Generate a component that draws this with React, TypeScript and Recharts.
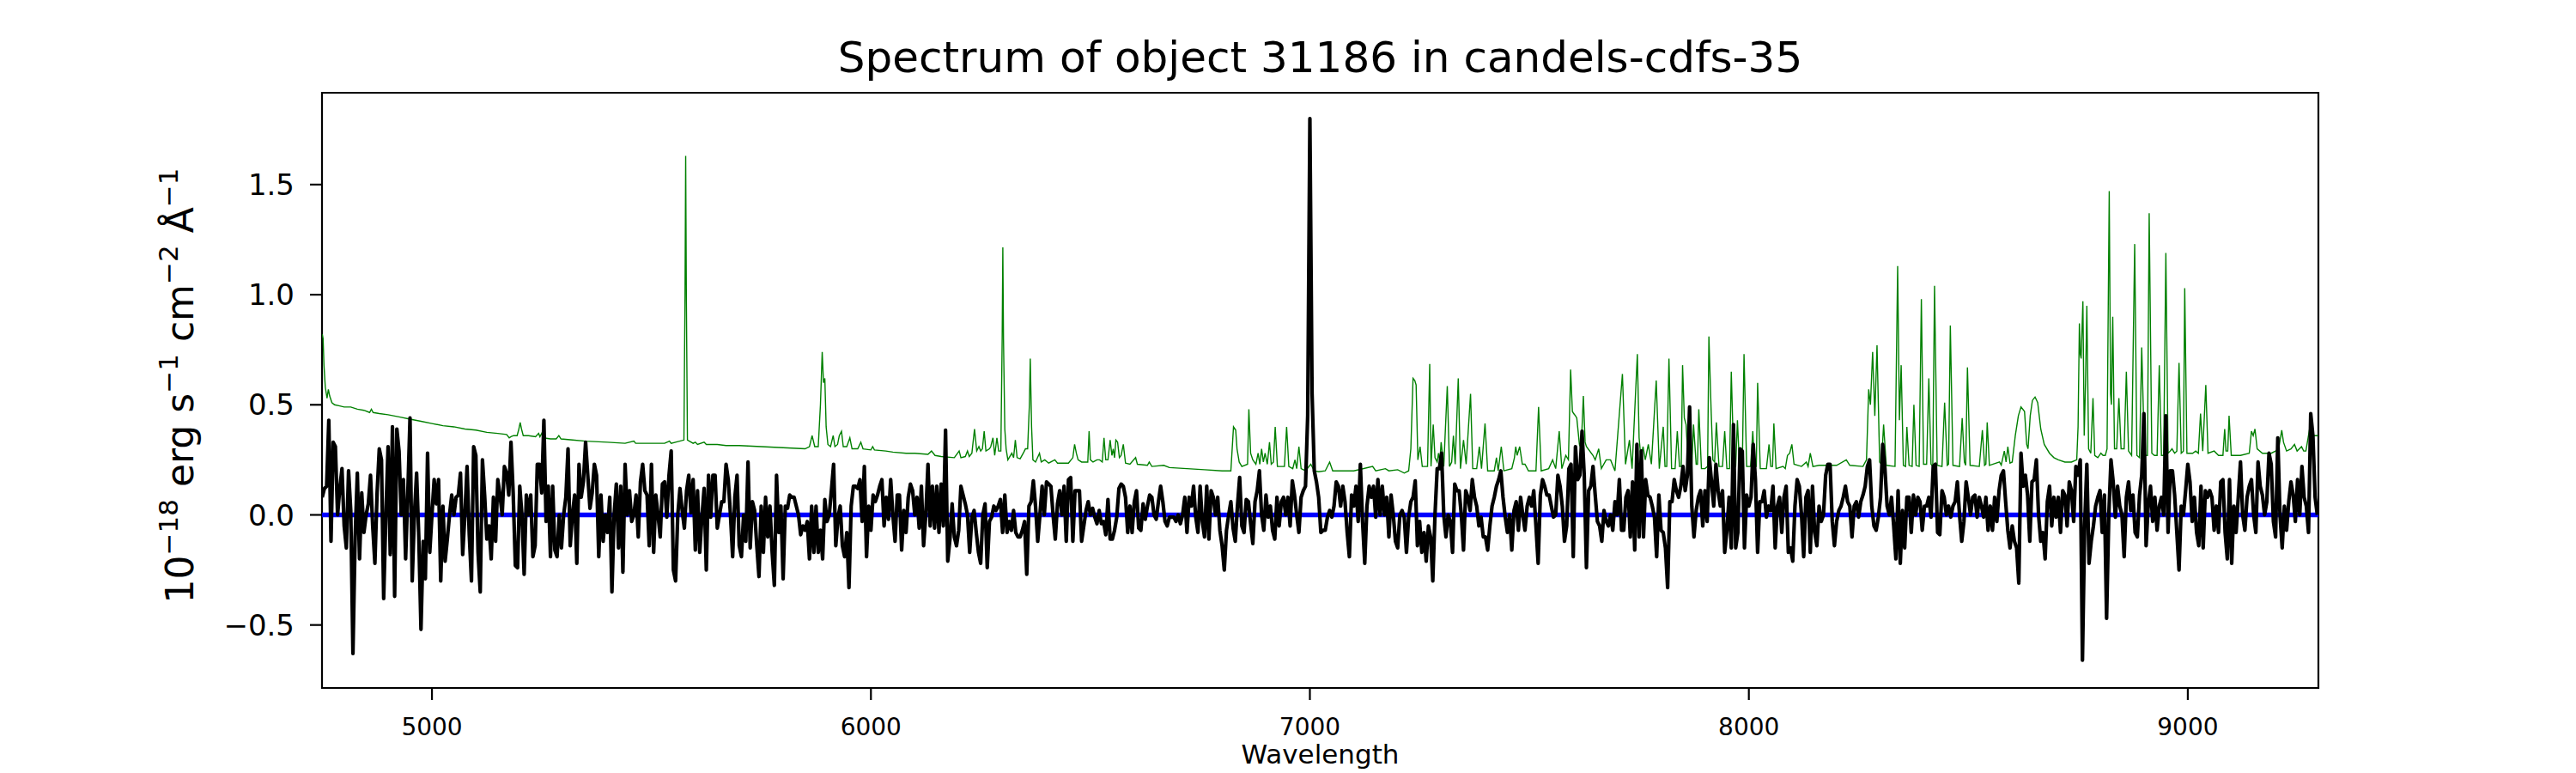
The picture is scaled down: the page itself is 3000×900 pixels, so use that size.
import React from 'react';
import { LineChart, Line, XAxis, YAxis, ReferenceLine, ReferenceArea } from 'recharts';

// 1D extraction grid of the object spectrum (Angstrom)
const WAVE_START = 4750;
const WAVE_STEP = 5;

// object flux, 1e-18 erg/s/cm2/A, one value per pixel
const FLUX_4750 = [
  .08, .12, .13, .43, -.12, .33, .31, 0, .12, .21,
  -.05, -.15, .2, .02, -.63, -.1, .19, -.2, .1, -.08,
  0, .05, .18, -.05, -.22, .1, .3, .25, -.38, 0,
  .31, -.18, .4, -.37, .39, .29, 0, .16, -.2, .1,
  .44, -.3, 0, .19, -.1, -.52, -.12, -.29, .28, -.17,
  0, .16, .05, .16, -.3, .04, -.21, -.11, 0, .09,
  0, .08, .09, .19, -.18, 0, .22, -.09, -.3, .31,
  .27, -.17, -.35, .25, .09, -.11, -.05, -.2, .08, -.12,
  .16, .09, 0, .22, .19, .09, .33, .1, -.23, -.24,
  .13, 0, -.27, .09, 0, .09, -.19, -.14, .23, .23,
  .1, .43, -.03, .13, -.19, .13, -.16, -.19, 0, -.15,
  0, .08, .3, -.14, 0, .09, -.22, .23, .08, .15,
  .33, .18, .03, .1, .23, .18, -.19, .09, -.12, 0,
  -.08, .08, -.35, 0, .14, -.15, .13, -.26, .23, 0,
  .11, -.03, 0, .09, -.1, .15, .23, .11, .09, -.14,
  .23, -.17, .09, 0, -.1,
];
const FLUX_5525 = [
  .14, .15, -.01, .18, .29, -.25, -.3, 0, .12, .02,
  -.06, .11, .18, .01, .16, -.16, .11, -.17, -.01, .12,
  -.25, .18, -.01, .18, .18, -.06, 0, .06, .06, .23,
  .16, 0, -.19, .08, .18, -.14, -.19, 0, -.12, .24,
  -.15, .06, .02, -.14, -.28, .04, -.17, .08, -.1, .04,
  -.17, -.32, .18, -.08, .04, -.29, .04, .03, .09, .08,
  .08, .04, 0, -.09, -.05, -.07, -.03, -.2, .04, -.17,
  .04, -.17, -.07, -.2, .07, -.03, 0, .11, .23, -.14,
  -.01, .04, -.14, -.19, -.08, -.33, .04, .13, .13, .12,
  .16, -.03, .22, -.19, .04, -.07, .09, .06, .09, .13,
  .16, -.05, .08, -.02, .16, 0, -.12, .09, .09, -.16,
  .02, -.08, .08, .14, .11, 0, .08, -.06, .13, -.14,
  0, .23, -.05, .13, -.06, .13, -.08, .14, -.05, .385,
  -.21, -.11, .05, -.1, -.14, -.07, .13, .09, .05, 0,
  -.17, -.01, .02, -.08, -.17, -.22, 0, .05, -.24, -.03,
  -.01, .04,
];
const FLUX_6285 = [
  .02, .04, .07, -.08, .09, -.08, -.03, -.07, .02, -.08,
  -.1, -.1, -.07, -.03, -.27, .04, .06, .155, .04, -.12,
  0, .13, 0, .15, .14, .13, 0, -.11, .05, .11,
  0, .13, -.12, .16, .17, -.12, .11, .11, .11, -.12,
  -.05, .02, .06, 0, .03, -.01, -.04, .02, -.04, -.03,
  -.09, .07, -.11, -.11, -.07, -.01, .12, .14, .13, .08,
  -.08, .04, -.08, .06, .11, -.06, -.07, .05, -.02, .04,
  .09, .08, 0, -.02, .06, .13, .06, -.03, -.05, -.01,
  -.01, -.01, -.03, 0, -.04, 0, .08, -.08, .08, .04,
  .13, -.01, -.08, .13, -.03, -.1, .13, -.11, .11, .08,
  0, .08, -.07, -.14, -.25, -.07, 0, .06, -.06, -.12,
  .04, .17, -.05, -.08, .07, .06, -.04, -.13, .06, .11,
  .2, 0, -.07, .09, -.01, .04, -.07, -.11, .08, -.05,
  .06, .08, 0, .08, -.05, .155, .09, 0, -.08, .08,
  .11, .13, .45, 1.8, .55, .2, .15, .08, -.08, -.07,
  -.07, -.01, .02,
];
const FLUX_7050 = [
  -.01, .04, .15, .13, .04, .13, .06, -.08, -.19, .09,
  .04, .13, -.03, .23, -.03, -.22, .04, .13, .08, .13,
  -.01, .16, 0, .13, 0, .08, -.1, .09, 0, -.12,
  -.15, 0, .02, -.01, -.17, -.01, .06, .08, .155, -.14,
  -.03, -.17, -.08, -.21, -.05, -.1, -.3, 0, .21, .21,
  .28, 0, -.1, 0, -.03, -.17, .14, .11, .11, 0,
  -.16, .11, .08, .02, .16, .08, .04, -.05, -.01, -.1,
  -.1, -.16, -.05, .04, .08, .13, .16, .2, .08, -.01,
  -.08, 0, -.16, .02, .06, -.07, .08, 0, -.07, .04,
  .08, .04, .11, -.05, -.22, .09, .16, .13, .09, .09,
  .04, -.01, 0, .18, .13, .04, -.12, -.05, .21, .23,
  -.19, .31, .16, .18, .38, .18, -.24, .11, .13, .22,
  .09, -.03, -.05, -.12, .02, -.03, -.05, 0, -.07, .06,
  0, .16, -.07, -.07, .08, .11, -.1, .15, -.16, .32,
  -.1, .29, -.1, .16, .09, .08, .04, -.01, -.19, .09,
  -.07, -.08, -.15,
];
const FLUX_7815 = [
  -.33, .06, .06, .16, .11, .08, .13, .22, .11, .18,
  .49, .04, -.1, .02, .08, .11, -.05, .11, -.03, .26,
  .15, .04, .23, .11, .04, .11, -.17, -.07, .08, -.15,
  .41, -.15, -.08, .3, .29, -.15, .09, .04, .08, .32,
  .16, -.17, .06, .06, .11, -.01, .04, .02, .13, -.15,
  .04, .08, -.08, .08, .13, -.17, -.15, -.21, .04, .16,
  .13, 0, -.19, .08, .11, -.17, .13, -.08, -.14, .04,
  -.03, 0, .18, .23, .23, -.03, -.14, -.03, .02, .04,
  .08, .13, .06, .04, -.1, .04, .06, -.01, .06, .09,
  .13, .22, .25, .04, -.05, -.07, -.01, .08, .32, .21,
  .04, 0, .08, -.05, -.2, .11, -.22, .02, -.15, .08,
  .08, -.08, .09, 0, .08, .06, -.07, .04, .04, .08,
  -.01, .22, .23, -.08, -.09, .11, .08, 0, .04, -.01,
  .04, .06, .15, 0, -.12, -.03, .15, .08, 0, .08,
  .09, -.01, .08, .04, -.01, .08, -.07, .04, -.07, .08,
  -.03, .11,
];
const FLUX_8575 = [
  .18, .2, .06, -.07, -.15, -.05, -.12, -.15, -.31, .28,
  .13, .18, .09, -.12, .15, .16, .25, 0, -.12, -.08,
  -.2, .06, .13, -.05, .08, -.01, .08, -.08, .11, .09,
  -.05, .15, .11, -.03, .22, .18, .25, -.66, -.05, .23,
  -.22, -.12, -.05, .04, .08, .11, -.08, .09, -.47, 0,
  .25, .15, -.01, .13, .04, 0, -.19, .08, .15, .02,
  .09, -.08, -.1, .09, .18, .46, -.14, .05, .13, -.03,
  .08, -.07, .04, .08, 0, .45, -.08, .2, .2, .09,
  -.08, -.25, .04, 0, .11, .23, .15, -.03, .08, -.08,
  -.14, .13, -.15, .11, .08, .11, .08, -.07, .04, -.08,
  .15, .16, -.08, -.2, .16, -.22, .04, -.08, .08, .24,
  0, -.07, .08, .13, .16, 0, -.08, .24, .13, .09,
  0, .06, .28, .23, -.03, -.1, .35, 0, -.15, .04,
  -.07, .06, .15, .09, -.03, .16, 0, .22, .08, .04,
  -.08, .46, .36, .08, 0,
];

// sky spectrum [wavelength, flux]
const SKY_4750 = [
  [4750, .82], [4752, .8], [4754, .68], [4757, .58], [4761, .53], [4764, .57], [4767, .54],
  [4772, .51], [4778, .5], [4790, .495], [4800, .49], [4815, .49], [4830, .48], [4845, .475],
  [4858, .465], [4862, .48], [4866, .465], [4880, .46], [4900, .455], [4925, .445], [4950, .435],
  [4975, .425], [5000, .415], [5025, .405], [5050, .4], [5075, .39], [5100, .385], [5125, .375],
  [5150, .37], [5170, .365], [5176, .35], [5180, .355], [5186, .36], [5194, .36], [5198, .39],
  [5201, .42], [5204, .39], [5208, .36], [5220, .36], [5236, .355], [5243, .37], [5246, .355],
  [5250, .37], [5254, .35], [5270, .345], [5283, .345], [5289, .36], [5294, .345], [5320, .34],
  [5350, .335], [5400, .33], [5440, .325], [5460, .335], [5464, .325], [5500, .325],
];
const SKY_5500 = [
  [5530, .325], [5541, .335], [5545, .325], [5574, .34], [5576.5, 1.0], [5578, 1.63],
  [5579.5, 1.0], [5582, .34], [5595, .325], [5600, .33], [5605, .32], [5620, .33], [5625, .32],
  [5650, .32], [5670, .315], [5700, .315], [5750, .31], [5800, .305], [5850, .3], [5860, .31],
  [5866, .36], [5872, .31], [5880, .31], [5885, .5], [5889, .74], [5892, .6], [5895, .62],
  [5898, .4], [5902, .32], [5908, .31], [5914, .36], [5918, .31], [5924, .32], [5928, .36],
  [5933, .38], [5937, .31], [5945, .31], [5952, .35], [5957, .3], [5970, .3], [5977, .33],
  [5982, .3], [6000, .295], [6004, .31], [6008, .295], [6034, .29], [6050, .285], [6080, .28],
  [6100, .28], [6130, .275], [6138, .29], [6146, .27], [6160, .265], [6190, .26], [6201, .29],
  [6205, .26], [6215, .265], [6220, .29], [6224, .265], [6230, .28], [6236, .39], [6241, .29],
  [6246, .31], [6250, .29], [6254, .3], [6258, .38], [6262, .29], [6270, .3], [6273, .31],
  [6278, .35], [6282, .27], [6287, .35], [6291, .29], [6296, .29],
];
const SKY_6300 = [
  [6299, .8], [6300.5, 1.215], [6302, .8], [6305, .39], [6308, .3], [6312, .25], [6321, .28],
  [6325, .26], [6329, .34], [6333, .26], [6340, .255], [6347, .28], [6352, .3], [6357, .3],
  [6361, .5], [6363, .71], [6366, .4], [6369, .25], [6375, .24], [6384, .28], [6388, .24],
  [6396, .25], [6405, .235], [6419, .25], [6425, .235], [6450, .235], [6460, .26], [6464, .32],
  [6468, .28], [6472, .25], [6480, .24], [6494, .24], [6497, .38], [6500, .25], [6506, .24],
  [6515, .25], [6521, .25], [6527, .24], [6531, .35], [6535, .25], [6540, .25], [6545, .34],
  [6549, .27], [6552, .3], [6555, .26], [6558, .34], [6562, .33], [6566, .26], [6570, .27],
  [6575, .32], [6580, .235], [6590, .23], [6603, .26], [6607, .23], [6630, .225], [6634, .24],
  [6640, .22], [6667, .225], [6680, .215], [6720, .21], [6760, .205], [6800, .2], [6820, .2],
  [6823, .3], [6826, .4], [6831, .385], [6834, .3], [6839, .24], [6845, .22], [6858, .23],
  [6861, .48], [6865, .28], [6870, .25], [6877, .23], [6882, .28], [6886, .23], [6890, .3],
  [6894, .24], [6898, .28], [6903, .23], [6908, .33], [6912, .23], [6917, .24], [6921, .4],
  [6926, .22], [6942, .22], [6947, .4], [6952, .22], [6961, .21], [6966, .25], [6970, .21],
  [6975, .31], [6980, .21], [6990, .2], [7002, .23], [7010, .2], [7020, .196], [7035, .2],
  [7045, .24], [7052, .2], [7080, .2], [7100, .2],
];
const SKY_7100 = [
  [7143, .22], [7150, .2], [7172, .21], [7180, .2], [7200, .205], [7215, .19], [7225, .2],
  [7230, .3], [7235, .62], [7239, .61], [7242, .59], [7246, .25], [7251, .31], [7256, .22],
  [7268, .22], [7273, .685], [7276, .22], [7281, .41], [7285, .26], [7290, .24], [7293, .28],
  [7296, .24], [7299, .33], [7305, .22], [7313, .585], [7318, .22], [7323, .24], [7327, .36],
  [7331, .23], [7338, .62], [7343, .21], [7350, .34], [7356, .23], [7366, .55], [7371, .21],
  [7380, .21], [7386, .31], [7391, .21], [7399, .415], [7405, .2], [7420, .2], [7425, .26],
  [7429, .2], [7436, .31], [7442, .2], [7460, .21], [7466, .26], [7469, .31], [7472, .27],
  [7478, .31], [7484, .23], [7490, .23], [7498, .2], [7515, .2], [7521, .49], [7527, .2],
  [7544, .21], [7553, .25], [7560, .21], [7568, .38], [7574, .21], [7583, .27], [7589, .25],
  [7594, .66], [7598, .47], [7601, .46], [7605, .45], [7608, .44], [7614, .32], [7618, .3],
  [7623, .54], [7627, .33], [7630, .31], [7645, .27], [7650, .25], [7658, .3], [7664, .21],
  [7675, .25], [7685, .25], [7695, .2], [7712, .64], [7719, .23], [7728, .34], [7734, .21],
  [7746, .73], [7750, .35], [7754, .26], [7759, .31], [7764, .25], [7771, .32], [7778, .23],
  [7789, .61], [7796, .21],
];
const SKY_7800 = [
  [7805, .4], [7809, .22], [7813, .22], [7818, .71], [7824, .21], [7832, .21], [7837, .38],
  [7842, .22], [7846, .22], [7849, .68], [7853, .44], [7857, .41], [7862, .23], [7870, .22],
  [7874, .41], [7880, .23], [7883, .23], [7886, .48], [7892, .21], [7900, .21], [7906, .22],
  [7909, .81], [7914, .48], [7918, .25], [7922, .24], [7926, .42], [7932, .22], [7940, .22],
  [7945, .38], [7950, .21], [7956, .21], [7960, .65], [7966, .21], [7970, .22], [7974, .43],
  [7979, .21], [7985, .21], [7989, .73], [7995, .22], [8004, .22], [8009, .38], [8013, .22],
  [8017, .22], [8020, .6], [8026, .21], [8040, .21], [8046, .32], [8050, .22], [8054, .22],
  [8057, .415], [8062, .21], [8078, .22], [8083, .21], [8088, .27], [8093, .28], [8098, .32],
  [8103, .23], [8120, .22], [8131, .24], [8135, .22], [8140, .28], [8146, .22], [8160, .225],
  [8200, .225], [8222, .25], [8230, .225], [8260, .22], [8268, .25], [8273, .57], [8277, .5],
  [8282, .74], [8287, .45], [8292, .77], [8298, .24], [8302, .23], [8307, .41], [8313, .225],
  [8333, .22], [8339, 1.13], [8343, .43], [8347, .68], [8352, .225], [8357, .22], [8360, .4],
  [8365, .225], [8372, .22], [8376, .5], [8381, .225], [8388, .22], [8393, .98], [8398, .23],
  [8405, .23], [8410, .62], [8415, .23], [8419, .22], [8423, 1.04], [8429, .225], [8440, .22],
  [8446, .51], [8452, .225], [8455, .23], [8459, .86], [8465, .225], [8480, .22], [8486, .44],
  [8491, .24], [8494, .225], [8498, .67], [8504, .225], [8525, .22], [8532, .385], [8537, .225],
  [8540, .23], [8543, .42], [8548, .225], [8571, .24], [8575, .226],
];
const SKY_8575 = [
  [8582, .29], [8586, .24], [8590, .31], [8595, .235], [8600, .24], [8607, .36], [8614, .45],
  [8620, .49], [8628, .47], [8633, .32], [8636, .3], [8641, .45], [8646, .52], [8652, .535],
  [8658, .51], [8665, .39], [8673, .32], [8685, .28], [8695, .26], [8705, .25], [8720, .24],
  [8735, .24], [8747, .25], [8750, .4], [8753, .87], [8755, .73], [8757, .71], [8761, .97],
  [8764, .36], [8767, .6], [8770, .95], [8774, .3], [8779, .28], [8784, .53], [8788, .27],
  [8795, .26], [8802, .28], [8807, .27], [8812, .27], [8816, .3], [8821, 1.47], [8824, .55],
  [8826, .5], [8829, .9], [8833, .3], [8838, .3], [8843, .53], [8848, .3], [8855, .3],
  [8860, .65], [8865, .29], [8872, .27], [8879, 1.23], [8884, .27], [8890, .26], [8895, .76],
  [8899, .45], [8903, .27], [8908, .27], [8912, 1.37], [8918, .28], [8924, .27], [8930, .27],
  [8935, .68], [8940, .27], [8945, .27], [8950, 1.19], [8955, .28], [8960, .29], [8964, .3],
  [8970, .28], [8975, .29], [8980, .69], [8985, .28], [8990, .29], [8993, 1.03], [8998, .28],
  [9011, .28], [9018, .29], [9024, .28], [9029, .46], [9034, .29], [9041, .59], [9046, .28],
  [9060, .29], [9070, .27], [9080, .27], [9084, .39], [9087, .29], [9091, .29], [9094, .45],
  [9099, .27], [9120, .27], [9140, .28], [9145, .38], [9149, .36], [9153, .39], [9158, .3],
  [9170, .28], [9190, .28], [9200, .29], [9207, .3], [9214, .385], [9218, .33], [9225, .29],
  [9235, .3], [9243, .32], [9249, .29], [9259, .31], [9264, .29], [9269, .29], [9277, .385],
  [9285, .36], [9297, .36],
];

const X_TICKS = [5000, 6000, 7000, 8000, 9000];
const Y_TICKS = [-0.5, 0, 0.5, 1, 1.5];
const X_DOMAIN = [4749.5, 9297.5];
const Y_DOMAIN = [-0.786, 1.917];
const TITLE = 'Spectrum of object 31186 in candels-cdfs-35';

const FONT = '"DejaVu Sans", sans-serif';

const flux = [...FLUX_4750, ...FLUX_5525, ...FLUX_6285, ...FLUX_7050, ...FLUX_7815, ...FLUX_8575];
const objectData = flux.map((f, i) => ({ w: WAVE_START + i * WAVE_STEP, f }));
const skyData = [...SKY_4750, ...SKY_5500, ...SKY_6300, ...SKY_7100, ...SKY_7800, ...SKY_8575]
  .map(([w, f]) => ({ w, f }));

const fmtY = (v: number) => (v < 0 ? '\u2212' : '') + Math.abs(v).toFixed(1);

function XLabel(props: any) {
  const vb = props.viewBox || { x: 375, y: 801, width: 2325, height: 99 };
  return (
    <text x={vb.x + vb.width / 2} y={889} textAnchor="middle" fontSize={31} fill="#000" fontFamily={FONT}>
      Wavelength
    </text>
  );
}

function YLabel() {
  const x = 225;
  const y = 449;
  const sup = 18;
  return (
    <text x={x} y={y} transform={`rotate(-90, ${x}, ${y})`} textAnchor="middle" fontSize={44} fill="#000" fontFamily={FONT}>
      <tspan>10</tspan>
      <tspan fontSize={31} dy={-sup}>{'\u221218'}</tspan>
      <tspan dy={sup}>{' erg s'}</tspan>
      <tspan fontSize={31} dy={-sup}>{'\u22121'}</tspan>
      <tspan dy={sup}>{' cm'}</tspan>
      <tspan fontSize={31} dy={-sup}>{'\u22122'}</tspan>
      <tspan dy={sup}>{' \u00c5'}</tspan>
      <tspan fontSize={31} dy={-sup}>{'\u22121'}</tspan>
    </text>
  );
}

export default function App() {
  return (
    <div style={{ position: 'absolute', left: 0, top: 0, width: 3000, height: 900, background: '#fff', fontFamily: FONT }}>
      <svg width={3000} height={100} style={{ position: 'absolute', left: 0, top: 0 }}>
        <text x={1537.5} y={84} textAnchor="middle" fontSize={50} fill="#000" fontFamily={FONT}>
          {TITLE}
        </text>
      </svg>
      <LineChart width={3000} height={900} margin={{ top: 108, right: 300, bottom: 0, left: 0 }}>
        <XAxis
          dataKey="w"
          type="number"
          domain={X_DOMAIN}
          allowDataOverflow
          ticks={X_TICKS}
          height={99}
          axisLine={false}
          tickSize={14}
          tickMargin={21}
          tickLine={{ stroke: '#000', strokeWidth: 2.2 }}
          tick={{ fontSize: 28, fill: '#000', fontFamily: FONT }}
          label={XLabel}
        />
        <YAxis
          type="number"
          domain={Y_DOMAIN}
          allowDataOverflow
          ticks={Y_TICKS}
          tickFormatter={fmtY}
          width={375}
          axisLine={false}
          tickSize={14}
          tickMargin={18}
          tickLine={{ stroke: '#000', strokeWidth: 2.2 }}
          tick={{ fontSize: 34, fill: '#000', fontFamily: FONT }}
          label={YLabel}
        />
        <ReferenceLine y={0} stroke="#0000ff" strokeWidth={5.5} />
        <Line
          data={skyData}
          dataKey="f"
          type="linear"
          stroke="#008000"
          strokeWidth={1.4}
          dot={false}
          activeDot={false}
          isAnimationActive={false}
        />
        <Line
          data={objectData}
          dataKey="f"
          type="linear"
          stroke="#000"
          strokeWidth={4.2}
          strokeLinejoin="round"
          dot={false}
          activeDot={false}
          isAnimationActive={false}
        />
        <ReferenceArea
          x1={X_DOMAIN[0]}
          x2={X_DOMAIN[1]}
          y1={Y_DOMAIN[0]}
          y2={Y_DOMAIN[1]}
          fill="none"
          fillOpacity={0}
          stroke="#000"
          strokeWidth={2.2}
        />
      </LineChart>
    </div>
  );
}
